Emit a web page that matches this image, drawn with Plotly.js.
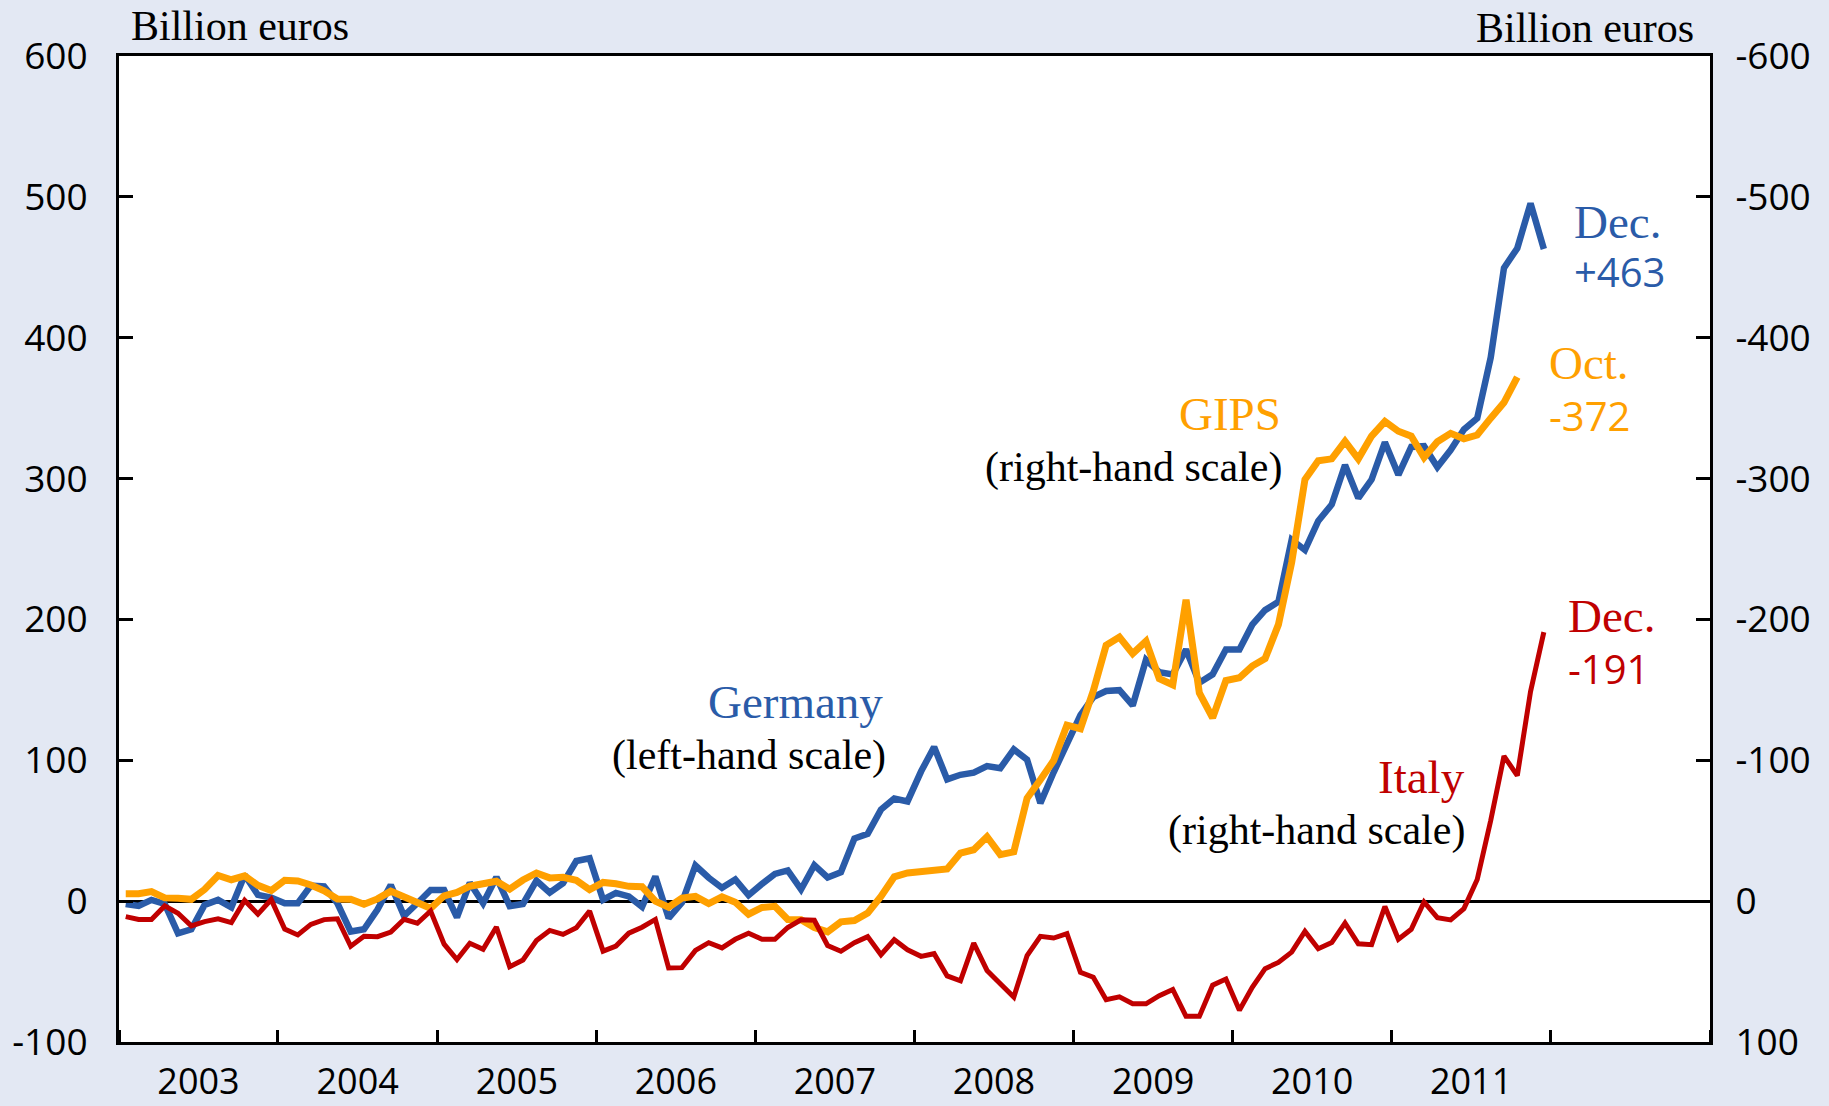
<!DOCTYPE html>
<html>
<head>
<meta charset="utf-8">
<script src="https://cdn.plot.ly/plotly-3.0.1.min.js"></script>
<style>
  html, body { margin: 0; padding: 0; background: #E3E8F3; }
  #chart { width: 1829px; height: 1106px; }
</style>
</head>
<body>
<div id="chart"></div>
<script>
// ---------------- DATA ----------------
// Monthly observations, Jan 2003 onwards (billion euros)
const startYear = 2003;

// Germany (left-hand scale), Jan 2003 - Dec 2011
const germany = [
  -2, -3.4, 0.9, -2, -22.8, -20, -2.7, 0.9, -4.4, 18.6, 4.4, 2.5,
  -1.5, -1.5, 11, 10.5, -1.5, -21.6, -20, -6, 11.5, -10.5, -1.5, 7.9,
  7.9, -11.5, 13, -1.5, 17, -3.5, -2, 14.5, 6, 12.7, 28.5, 30.4,
  1, 5.8, 3.4, -4, 17.5, -12, -1, 25.3, 16.6, 9.5, 15.4, 4.2,
  12.3, 19.3, 21.8, 8.3, 25.5, 16.8, 20.5, 44.5, 47.8, 65, 72.8, 70.8,
  92, 109.5, 86.4, 89.7, 91.2, 95.9, 94.4, 107.7, 100.4, 69.6, 91.5, 113,
  132, 144.8, 149.2, 149.8, 138.9, 171.3, 162.5, 161, 178.7, 155.1, 161, 178.7,
  178.7, 196.3, 206.6, 212.5, 256.6, 249.3, 269.9, 281.6, 309.6, 286.1, 299.3, 325.8,
  302.7, 322.5, 323, 308.2, 320.2, 334.9, 342.8, 385.9, 449.6, 463.5, 495.4, 463
];

// GIPS (right-hand scale), Jan 2003 - Oct 2011
const gips = [
  -5.3, -5.3, -6.8, -2.3, -2, -1.3, -8.3, -18.2, -15.2, -17.9, -11.2, -7.5,
  -14.8, -14.3, -11.5, -7.3, -1.5, -1.3, 2.2, -1.6, -7.1, -3.4, 0.6, 5.1,
  -3.8, -6.2, -10.6, -12.7, -14.1, -8.5, -15, -20, -16.5, -16.9, -14.8, -8.2,
  -13.3, -12.3, -10.5, -10.2, 0, 4.3, -2.2, -3.4, 1.7, -3.1, 0.8, 9.3,
  4.5, 3.7, 13, 13.2, 18.8, 21.8, 14.7, 13.8, 8.5, -3.3, -17.3, -20,
  -21.4, -21.5, -22.9, -34.1, -36.5, -45.7, -33, -35, -73.1, -86.2, -99.8, -124.9,
  -122.4, -149.2, -181.6, -187.5, -175.7, -184.5, -158, -153.6, -214, -147.8, -130.1, -156.6,
  -158.6, -166.9, -172.2, -196.3, -240.5, -299.3, -312.6, -314, -326.4, -314, -330.2, -340.5,
  -333.6, -330.1, -315, -326.2, -332.1, -328.2, -330.9, -342.9, -354, -372
];

// Italy (right-hand scale), Jan 2003 - Dec 2011
const italy = [
  11, 13, 13, 3.4, 8.6, 17.6, 14.5, 12.5, 15.2, -0.5, 9.2, -1.1,
  19.8, 24, 16.5, 13.1, 12.5, 32, 25, 25.2, 22, 12.9, 15.7, 7,
  30.5, 41.5, 29.9, 34.2, 18.3, 46.5, 41.8, 28, 20.8, 23.6, 18.9, 7.1,
  35.5, 31.9, 22.7, 18.5, 13, 47.5, 47.2, 35, 29.5, 33.2, 27.1, 22.8,
  27.1, 27.1, 18.7, 13.2, 13.6, 31.5, 35.6, 29.5, 25.2, 38, 27.4, 34.5,
  39.2, 37.3, 53.1, 56.6, 29.8, 49.2, 58.7, 68.1, 38.6, 25, 26.2, 23.1,
  50.5, 54, 70, 67.9, 72.9, 72.9, 67.1, 62.7, 81.8, 81.8, 59.7, 55.3,
  77.4, 61.2, 47.9, 43.5, 36.2, 21.5, 33.8, 29.4, 15.6, 30.3, 30.9, 3.8,
  27, 20, 0.6, 11.7, 13.3, 5.3, -15.4, -57.2, -103, -89.1, -148.9, -191
];

// Tick labels
const leftTickVals  = [-100, 0, 100, 200, 300, 400, 500, 600];
const leftTickText  = ['-100', '0', '100', '200', '300', '400', '500', '600'];
const rightTickVals = [-600, -500, -400, -300, -200, -100, 0, 100];
const rightTickText = ['-600', '-500', '-400', '-300', '-200', '-100', '0', '100'];

// ---------------- BUILD ----------------
function monthLabels(n) {
  const out = [];
  for (let i = 0; i < n; i++) {
    const y = startYear + Math.floor(i / 12);
    const m = (i % 12) + 1;
    out.push(y + '-' + (m < 10 ? '0' + m : m));
  }
  return out;
}

const BLUE = '#2A5BA8';
const ORANGE = '#FFA000';
const RED = '#C00000';
const SERIF = 'Liberation Serif, Times New Roman, serif';
const SANS = 'Open Sans, sans-serif';

const W = 1829, H = 1106, L = 119, R = 1710, T = 56, B = 1042;
function px(x) { return (x - L) / (R - L); }
function py(y) { return (B - y) / (B - T); }

function ann(text, x, y, anchor, color, family, size) {
  return {
    text: text, xref: 'paper', yref: 'paper', x: px(x), y: py(y),
    xanchor: anchor, yanchor: 'middle', showarrow: false,
    font: { family: family, size: size, color: color }, borderpad: 0
  };
}

const common = { type: 'scatter', mode: 'lines', xperiod: 'M1', xperiodalignment: 'middle',
                 hoverinfo: 'skip' };

const traces = [
  Object.assign({}, common, { name: 'Germany', x: monthLabels(germany.length), y: germany,
    yaxis: 'y', line: { color: BLUE, width: 6.5 } }),
  Object.assign({}, common, { name: 'GIPS', x: monthLabels(gips.length), y: gips,
    yaxis: 'y2', line: { color: ORANGE, width: 7 } }),
  Object.assign({}, common, { name: 'Italy', x: monthLabels(italy.length), y: italy,
    yaxis: 'y2', line: { color: RED, width: 5 } })
];

const tickFont = { family: SANS, size: 37, color: '#000' };

const lastG = germany[germany.length - 1];
const lastP = gips[gips.length - 1];
const lastI = italy[italy.length - 1];

const layout = {
  width: W, height: H, autosize: false,
  margin: { l: L, r: W - R, t: T, b: H - B, pad: 0 },
  paper_bgcolor: '#E3E8F3',
  plot_bgcolor: '#FFFFFF',
  showlegend: false,
  xaxis: {
    type: 'date', range: ['2003-01-01', '2013-01-01'],
    tick0: '2003-01-01', dtick: 'M12', ticklabelmode: 'period', tickformat: '%Y',
    labelalias: { '2012': ' ' },
    ticks: 'inside', ticklen: 12, tickwidth: 3, tickcolor: '#000',
    showline: true, linewidth: 3, linecolor: '#000', mirror: true,
    showgrid: false, zeroline: false,
    tickfont: { family: SANS, size: 36, color: '#000' }, ticklabelstandoff: 6,
    fixedrange: true
  },
  yaxis: {
    range: [-100, 600], tickmode: 'array', tickvals: leftTickVals, ticktext: leftTickText,
    ticks: 'inside', ticklen: 14, tickwidth: 3, tickcolor: '#000',
    showline: true, linewidth: 3, linecolor: '#000',
    showgrid: false, zeroline: true, zerolinecolor: '#000', zerolinewidth: 3,
    tickfont: tickFont, ticklabelstandoff: 21, fixedrange: true
  },
  yaxis2: {
    overlaying: 'y', side: 'right', range: [100, -600],
    tickmode: 'array', tickvals: rightTickVals, ticktext: rightTickText,
    ticks: 'inside', ticklen: 14, tickwidth: 3, tickcolor: '#000',
    showline: true, linewidth: 3, linecolor: '#000',
    showgrid: false, zeroline: false,
    tickfont: tickFont, ticklabelstandoff: 15, fixedrange: true
  },
  annotations: [
    ann('Billion euros', 130, 26, 'left', '#000', SERIF, 42),
    ann('Billion euros', 1695, 28, 'right', '#000', SERIF, 42),
    ann('Germany', 884, 702, 'right', BLUE, SERIF, 47),
    ann('(left-hand scale)', 887, 755, 'right', '#000', SERIF, 42),
    ann('GIPS', 1282, 414, 'right', ORANGE, SERIF, 47),
    ann('(right-hand scale)', 1283, 467, 'right', '#000', SERIF, 42),
    ann('Italy', 1466, 777, 'right', RED, SERIF, 47),
    ann('(right-hand scale)', 1466, 830, 'right', '#000', SERIF, 42),
    ann('Dec.', 1573, 222, 'left', BLUE, SERIF, 47),
    ann('+' + lastG, 1573, 271, 'left', BLUE, SANS, 40),
    ann('Oct.', 1548, 363, 'left', ORANGE, SERIF, 47),
    ann(String(lastP), 1548, 415, 'left', ORANGE, SANS, 40),
    ann('Dec.', 1567, 616, 'left', RED, SERIF, 47),
    ann(String(lastI), 1567, 668, 'left', RED, SANS, 40)
  ]
};

Plotly.newPlot('chart', traces, layout, { staticPlot: true, displayModeBar: false });
</script>
</body>
</html>
